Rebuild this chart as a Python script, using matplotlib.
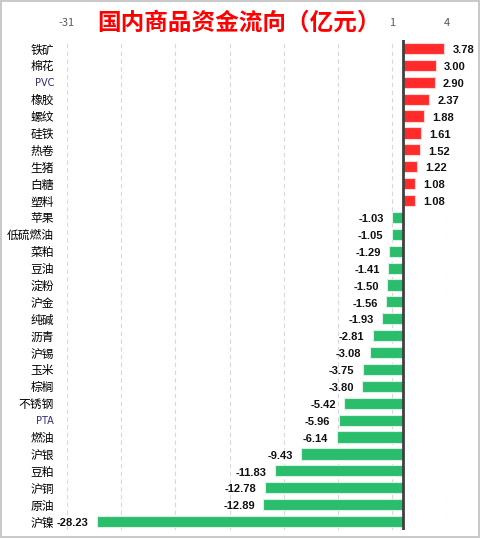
import matplotlib.pyplot as plt
from matplotlib.patches import Rectangle
import numpy as np

plt.rcParams['font.family'] = ['Noto Sans CJK SC', 'DejaVu Sans']

names = ['铁矿', '棉花', 'PVC', '橡胶', '螺纹', '硅铁', '热卷', '生猪', '白糖', '塑料',
         '苹果', '低硫燃油', '菜粕', '豆油', '淀粉', '沪金', '纯碱', '沥青', '沪锡', '玉米',
         '棕榈', '不锈钢', 'PTA', '燃油', '沪银', '豆粕', '沪铜', '原油', '沪镍']
flows = [3.78, 3.00, 2.90, 2.37, 1.88, 1.61, 1.52, 1.22, 1.08, 1.08,
         -1.03, -1.05, -1.29, -1.41, -1.50, -1.56, -1.93, -2.81, -3.08, -3.75,
         -3.80, -5.42, -5.96, -6.14, -9.43, -11.83, -12.78, -12.89, -28.23]
xticks = [-31, -26, -21, -16, -11, -6, -1, 4]
xtick_labels = ['-31', '', '', '', '', '', '1', '4']
title = '国内商品资金流向（亿元）'

red = '#FF2B2B'
green = '#29BD6C'

fig = plt.figure(figsize=(4.81, 5.4), dpi=100)
ax = fig.add_axes([66.7 / 481, 1 - 530 / 540, 380 / 481, 490 / 540])

y = np.arange(len(names))
colors = [red if v > 0 else green for v in flows]
edges = ['#FFD5D5' if v > 0 else '#D5F2E2' for v in flows]
ax.barh(y, flows, height=0.66, color=colors, edgecolor=edges, linewidth=0.8, zorder=3)

for yi, v in zip(y, flows):
    off = 6 if v > 0 else -6
    ax.annotate(f'{v:.2f}', (v, yi), xytext=(off, -0.5), textcoords='offset points',
                ha='left' if v > 0 else 'right', va='center_baseline', fontsize=8,
                fontweight='bold', family='Liberation Sans', color='#111111')

ax.axvline(0, color='#404040', lw=2.0, zorder=4)

ax.set_xlim(-31, 4)
ax.set_ylim(len(names) - 0.5, -0.5)
ax.set_xticks(xticks)
ax.set_xticklabels(xtick_labels)
ax.xaxis.tick_top()
ax.tick_params(axis='x', length=0, labelsize=8, labelcolor='#595959', pad=9)
ax.grid(axis='x', color='#D9D9D9', ls=(0, (4, 3)), lw=0.8, zorder=0)

ax.set_yticks(y)
ax.set_yticklabels(names)
ax.tick_params(axis='y', length=0, pad=9, labelsize=8.5)
for lab in ax.get_yticklabels():
    if lab.get_text().isascii():
        lab.set_fontsize(7)
        lab.set_color('#2B2B7A')
        lab.set_family('DejaVu Sans')

for s in ax.spines.values():
    s.set_visible(False)

fig.text(239 / 481, 1 - 22.5 / 540, title, ha='center', va='center', color='#FF0000',
         fontsize=17, fontweight='bold')

fig.patches.append(Rectangle((0.002, 0.006), 0.994, 0.992, transform=fig.transFigure,
                             fill=False, edgecolor='#BFBFBF', lw=1.2))

fig.savefig('out.png', dpi=100)
